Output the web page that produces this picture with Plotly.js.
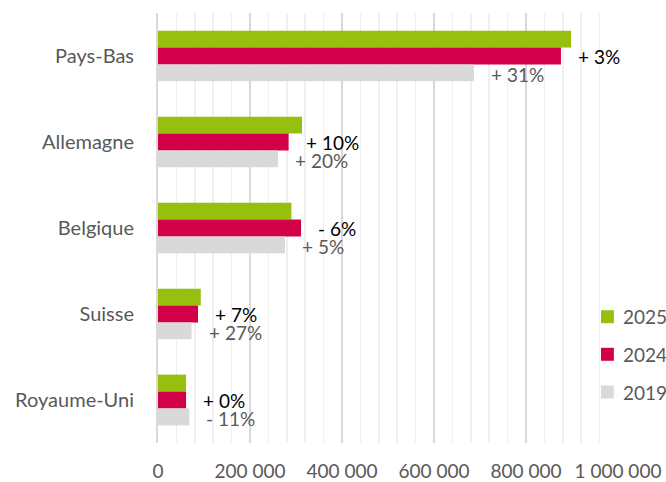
<!DOCTYPE html>
<html>
<head>
<meta charset="utf-8">
<script src="https://cdn.plot.ly/plotly-3.0.1.min.js"></script>
<style>html,body{margin:0;padding:0;background:#fff;}#chart{width:666px;height:482px;}</style>
</head>
<body>
<div id="chart"></div>
<script>
const categories = ["Pays-Bas", "Allemagne", "Belgique", "Suisse", "Royaume-Uni"];
const values2025 = [898000, 313000, 290000, 93000, 61000];
const values2024 = [876000, 284000, 311000, 87000, 61000];
const values2019 = [687000, 261000, 276000, 73000, 68000];
const labels2024 = ["+ 3%", "+ 10%", "- 6%", "+ 7%", "+ 0%"];
const labels2019 = ["+ 31%", "+ 20%", "+ 5%", "+ 27%", "- 11%"];
const seriesNames = ["2025", "2024", "2019"];

const FONT = "Lato, 'Open Sans', sans-serif";
const FS = 19;
const colors = ["#97BF0D", "#D20048", "#D9D9D9"];
const seriesVals = [values2025, values2024, values2019];

const traces = seriesNames.map((n, i) => ({
  type: "bar", orientation: "h", name: n,
  y: categories, x: seriesVals[i],
  marker: {color: colors[i]},
  hoverinfo: "x+name"
}));

const annotations = [];
const shapes = [];
categories.forEach((c, k) => {
  annotations.push({
    x: values2024[k], y: c, xref: "x", yref: "y",
    text: labels2024[k], showarrow: false, xanchor: "left", yanchor: "middle",
    xshift: 15, yshift: 0, font: {family: FONT, size: FS, color: "#000000"}
  });
  annotations.push({
    x: values2019[k], y: c, xref: "x", yref: "y",
    text: labels2019[k], showarrow: false, xanchor: "left", yanchor: "middle",
    xshift: 15, yshift: -18, font: {family: FONT, size: FS, color: "#595959"}
  });
});

// manual legend (right side, inside plot)
const legendY = [0.2937, 0.2063, 0.1186];
const halfH = 0.0151;
seriesNames.forEach((n, i) => {
  shapes.push({
    type: "rect", xref: "paper", yref: "paper",
    x0: 0.963, x1: 0.991, y0: legendY[i] - halfH, y1: legendY[i] + halfH,
    fillcolor: colors[i], line: {width: 0}
  });
  annotations.push({
    x: 1.0065, y: legendY[i], xref: "paper", yref: "paper",
    text: n, showarrow: false, xanchor: "left", yanchor: "middle",
    font: {family: FONT, size: FS, color: "#595959"}
  });
});

const layout = {
  width: 666, height: 482,
  margin: {l: 158, r: 48, t: 13, b: 39, autoexpand: false},
  paper_bgcolor: "#ffffff", plot_bgcolor: "#ffffff",
  barmode: "group", bargap: 0.41, bargroupgap: 0,
  separators: ", ",
  font: {family: FONT, size: FS, color: "#595959"},
  showlegend: false,
  xaxis: {
    range: [0, 1000000], dtick: 200000, tick0: 0, tickformat: ",d",
    showgrid: true, gridcolor: "#D9D9D9", gridwidth: 2,
    minor: {dtick: 40000, showgrid: true, gridcolor: "#EFEFEF", gridwidth: 1.5},
    zeroline: false, showline: false,
    ticks: "", ticklabelstandoff: 15,
    tickfont: {family: FONT, size: FS, color: "#595959"}
  },
  yaxis: {
    type: "category", autorange: "reversed",
    showline: true, linecolor: "#D9D9D9", linewidth: 2,
    showgrid: false, zeroline: false, ticks: "",
    ticklabelstandoff: 18,
    tickfont: {family: FONT, size: 20, color: "#595959"}
  },
  shapes: shapes,
  annotations: annotations
};

Plotly.newPlot("chart", traces, layout, {displayModeBar: false, staticPlot: true});
</script>
</body>
</html>
